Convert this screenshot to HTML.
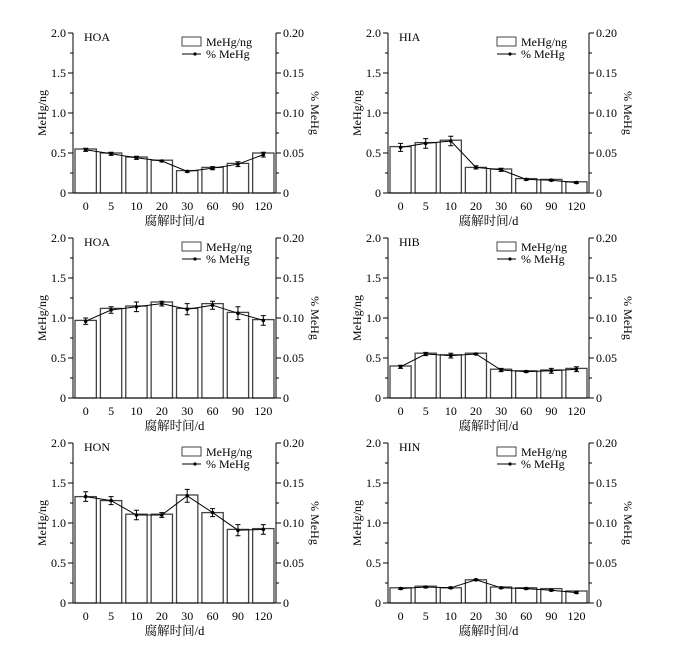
<!DOCTYPE html>
<html><head><meta charset="utf-8">
<style>
html,body{margin:0;padding:0;background:#fff;}
svg{display:block;font-family:"Liberation Serif","Noto Serif CJK SC",serif;}
</style></head>
<body>
<svg id="chart" width="674" height="646" viewBox="0 0 674 646" xmlns="http://www.w3.org/2000/svg"></svg>
<script>
const categories = ["0","5","10","20","30","60","90","120"];
const leftTicks = ["0","0.5","1.0","1.5","2.0"];
const rightTicks = ["0","0.05","0.10","0.15","0.20"];
const panelTitles = ["HOA","HIA","HOA","HIB","HON","HIN"];
const barsHOA1 = [0.55,0.50,0.45,0.41,0.28,0.32,0.37,0.50];
const lineHOA1 = [0.054,0.049,0.044,0.040,0.027,0.031,0.036,0.048];
const errHOA1 = [0.002,0.002,0.002,0.001,0.001,0.002,0.003,0.003];
const barsHIA = [0.58,0.63,0.66,0.32,0.30,0.18,0.17,0.14];
const lineHIA = [0.057,0.062,0.065,0.032,0.029,0.017,0.016,0.013];
const errHIA = [0.005,0.006,0.006,0.002,0.002,0.001,0.001,0.001];
const barsHOA2 = [0.97,1.12,1.15,1.20,1.12,1.18,1.07,0.98];
const lineHOA2 = [0.096,0.110,0.114,0.118,0.111,0.116,0.106,0.097];
const errHOA2 = [0.004,0.004,0.006,0.003,0.007,0.005,0.008,0.006];
const barsHIB = [0.40,0.56,0.54,0.56,0.36,0.34,0.35,0.37];
const lineHIB = [0.039,0.055,0.053,0.055,0.035,0.033,0.034,0.036];
const errHIB = [0.002,0.002,0.003,0.001,0.002,0.001,0.003,0.003];
const barsHON = [1.33,1.28,1.11,1.11,1.35,1.13,0.92,0.93];
const lineHON = [0.133,0.128,0.110,0.110,0.134,0.113,0.091,0.092];
const errHON = [0.006,0.005,0.006,0.003,0.008,0.005,0.007,0.006];
const barsHIN = [0.19,0.21,0.19,0.29,0.20,0.19,0.18,0.15];
const lineHIN = [0.018,0.020,0.019,0.029,0.019,0.018,0.016,0.013];
const errHIN = [0.001,0.001,0.001,0.001,0.001,0.001,0.001,0.001];

const panelBars = [barsHOA1,barsHIA,barsHOA2,barsHIB,barsHON,barsHIN];
const panelLines = [lineHOA1,lineHIA,lineHOA2,lineHIB,lineHON,lineHIN];
const panelErrs = [errHOA1,errHIA,errHOA2,errHIB,errHON,errHIN];

const NS = "http://www.w3.org/2000/svg";
const svg = document.getElementById("chart");
function mk(tag, attrs, parent, text){
  const e = document.createElementNS(NS, tag);
  for (const k in attrs) e.setAttribute(k, attrs[k]);
  if (text !== undefined) e.textContent = text;
  (parent||svg).appendChild(e);
  return e;
}
const colsX = [[73,276],[388,589]];
const rowsY = [33,238,443];
const H = 160;

for (let p=0;p<6;p++){
  const col = p%2, row = Math.floor(p/2);
  const x0 = colsX[col][0], x1 = colsX[col][1];
  const top = rowsY[row], bot = top+H;
  const g = mk("g",{});
  
  
  const yL = v => bot - v/2.0*H;
  const yR = v => bot - v/0.20*H;
  const band = (x1-x0)/categories.length;
  const xc = i => x0 + band*(i+0.5);

  panelBars[p].forEach((v,i)=>{
    const r = mk("rect",{x:xc(i)-band*0.42,y:yL(v),width:band*0.84,height:bot-yL(v),fill:"#fff",stroke:"#444","stroke-width":1.3},g);
    
    
  });
  const pts = panelLines[p].map((v,i)=>xc(i)+","+yR(v)).join(" ");
  const pl = mk("polyline",{points:pts,fill:"none",stroke:"#000","stroke-width":1},g);
  
  
  panelLines[p].forEach((v,i)=>{
    const e = panelErrs[p][i];
    const x = xc(i), ya = yR(v+e), yb = yR(v-e);
    const eb = mk("path",{d:`M${x},${ya}V${yb}M${x-2.5},${ya}H${x+2.5}M${x-2.5},${yb}H${x+2.5}`,stroke:"#000","stroke-width":1,fill:"none"},g);
    
    
    const pt = mk("circle",{cx:x,cy:yR(v),r:1.8,fill:"#000"},g);
    
    
  });
  const ax = mk("path",{d:`M${x0},${top}V${bot}H${x1}V${top}`,stroke:"#000","stroke-width":1,fill:"none"},g);
  
  
  for (let k=0;k<=8;k++){
    const y = bot - k*H/8;
    const len = k%2===0?5:3;
    mk("line",{x1:x0-len,y1:y,x2:x0,y2:y,stroke:"#000","stroke-width":1},g);
    mk("line",{x1:x1,y1:y,x2:x1+len,y2:y,stroke:"#000","stroke-width":1},g);
  }
  leftTicks.forEach((t,k)=>{
    const tl = mk("text",{x:x0-7,y:bot-k*H/4+4,"text-anchor":"end","font-size":12,fill:"#000"},g,t);
    
    
  });
  rightTicks.forEach((t,k)=>{
    const tl = mk("text",{x:x1+7,y:bot-k*H/4+4,"font-size":12,fill:"#000"},g,t);
    
    
  });
  categories.forEach((c,i)=>{
    const tl = mk("text",{x:xc(i),y:bot+17,"text-anchor":"middle","font-size":12,fill:"#000"},g,c);
    
    
  });
  const xt = mk("text",{x:(x0+x1)/2,y:bot+32,"text-anchor":"middle","font-size":12.5,fill:"#000"},g,"腐解时间/d");
  
  
  const ylx = x0-27, yly = (top+bot)/2;
  const yt = mk("text",{x:ylx,y:yly,"text-anchor":"middle","font-size":12,fill:"#000",transform:`rotate(-90 ${ylx} ${yly})`},g,"MeHg/ng");
  
  
  const yrx = x1+35;
  const yr = mk("text",{x:yrx,y:yly,"text-anchor":"middle","font-size":12,fill:"#000",transform:`rotate(90 ${yrx} ${yly})`},g,"% MeHg");
  
  
  const tt = mk("text",{x:x0+11,y:top+8,"font-size":12,fill:"#000"},g,panelTitles[p]);
  
  
  const lx = x0+109;
  const lg = mk("g",{},g);
  
  
  mk("rect",{x:lx,y:top+4,width:19,height:9,fill:"#fff",stroke:"#444","stroke-width":1},lg);
  mk("text",{x:lx+24,y:top+13,"font-size":12,fill:"#000"},lg,"MeHg/ng");
  mk("line",{x1:lx,y1:top+21,x2:lx+19,y2:top+21,stroke:"#000","stroke-width":1},lg);
  mk("circle",{cx:lx+13,cy:top+21,r:1.6,fill:"#000"},lg);
  mk("text",{x:lx+24,y:top+25,"font-size":12,fill:"#000"},lg,"% MeHg");
}
</script>
</body></html>
